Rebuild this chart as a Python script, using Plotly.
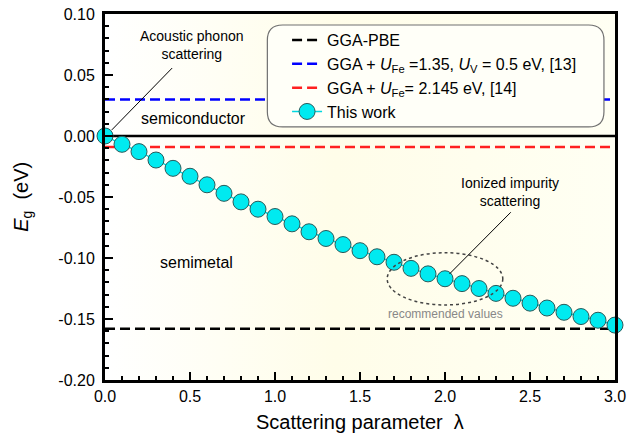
import plotly.graph_objects as go

# ---- data ----
lam = [0.0, 0.1, 0.2, 0.3, 0.4, 0.5, 0.6, 0.7, 0.8, 0.9, 1.0,
       1.1, 1.2, 1.3, 1.4, 1.5, 1.6, 1.7, 1.8, 1.9, 2.0,
       2.1, 2.2, 2.3, 2.4, 2.5, 2.6, 2.7, 2.8, 2.9, 3.0]
eg_this_work = [0.000, -0.0068, -0.0128, -0.0197, -0.0265, -0.033, -0.040, -0.047,
                -0.054, -0.060, -0.066, -0.072, -0.0785, -0.084, -0.089, -0.094,
                -0.099, -0.1035, -0.1085, -0.113, -0.117, -0.121, -0.125, -0.129,
                -0.133, -0.137, -0.141, -0.1445, -0.148, -0.151, -0.155]
eg_gga_pbe = -0.158
eg_ref13 = 0.030
eg_ref14 = -0.009

x_range = [0.0, 3.0]
y_range = [-0.20, 0.10]
y_tickvals = [0.10, 0.05, 0.00, -0.05, -0.10, -0.15, -0.20]
y_ticktext = ["0.10", "0.05", "0.00", "-0.05", "-0.10", "-0.15", "-0.20"]
x_tickvals = [0.0, 0.5, 1.0, 1.5, 2.0, 2.5, 3.0]
x_ticktext = ["0.0", "0.5", "1.0", "1.5", "2.0", "2.5", "3.0"]

FONT = "Liberation Sans, Arial, sans-serif"

fig = go.Figure()

# gradient background
fig.add_trace(go.Scatter(
    x=[x_range[0], x_range[1], x_range[1], x_range[0], x_range[0]],
    y=[y_range[0], y_range[0], y_range[1], y_range[1], y_range[0]],
    mode="lines", line=dict(width=0), fill="toself",
    fillgradient=dict(type="horizontal",
                      colorscale=[[0, "#ffffff"], [0.45, "#fffde9"], [1, "#fffff3"]]),
    showlegend=False, hoverinfo="skip"))

# zero line
fig.add_trace(go.Scatter(x=x_range, y=[0, 0], mode="lines",
                         line=dict(color="black", width=2.5),
                         showlegend=False, hoverinfo="skip"))

dash = "10px,5px"
fig.add_trace(go.Scatter(x=x_range, y=[eg_gga_pbe] * 2, mode="lines",
                         line=dict(color="black", width=2.5, dash=dash),
                         name="GGA-PBE"))
fig.add_trace(go.Scatter(x=x_range, y=[eg_ref13] * 2, mode="lines",
                         line=dict(color="#0000ff", width=2.5, dash=dash),
                         name="GGA + <i>U</i><sub>Fe</sub> =1.35, <i>U</i><sub>V</sub> = 0.5 eV, [13]"))
fig.add_trace(go.Scatter(x=x_range, y=[eg_ref14] * 2, mode="lines",
                         line=dict(color="#ff2020", width=2.5, dash=dash),
                         name="GGA + <i>U</i><sub>Fe</sub>= 2.145 eV, [14]"))
fig.add_trace(go.Scatter(x=lam, y=eg_this_work, mode="lines+markers",
                         line=dict(color="#00d8e0", width=1.5),
                         marker=dict(size=16, color="#00eaf0",
                                     line=dict(color="#2a5a5a", width=1)),
                         cliponaxis=False, name="This work"))

# rounded legend box (data coordinates)
bx0, bx1, by0, by1 = 0.955, 2.935, 0.0074, 0.091
rx, ry = 0.09, 0.0125
path = (f"M {bx0+rx},{by1} L {bx1-rx},{by1} Q {bx1},{by1} {bx1},{by1-ry} "
        f"L {bx1},{by0+ry} Q {bx1},{by0} {bx1-rx},{by0} "
        f"L {bx0+rx},{by0} Q {bx0},{by0} {bx0},{by0+ry} "
        f"L {bx0},{by1-ry} Q {bx0},{by1} {bx0+rx},{by1} Z")
fig.add_shape(type="path", path=path, xref="x", yref="y",
              line=dict(color="#707070", width=1.2), fillcolor="#fffff8",
              layer="above")

# recommended values ellipse
fig.add_shape(type="circle", xref="x", yref="y", x0=1.66, x1=2.34, y0=-0.1385, y1=-0.0957,
              line=dict(color="#444444", width=1.5, dash="dot"), layer="above")

# pointer lines
fig.add_shape(type="line", xref="x", yref="y", x0=0.04, y0=0.005, x1=0.395, y1=0.0557,
              line=dict(color="black", width=1), layer="above")
fig.add_shape(type="line", xref="x", yref="y", x0=2.027, y0=-0.113, x1=2.387, y1=-0.0625,
              line=dict(color="black", width=1), layer="above")

ann_font = dict(family=FONT, size=14, color="black")
fig.add_annotation(x=0.51, y=0.075, xref="x", yref="y", showarrow=False,
                   text="Acoustic phonon<br>scattering", font=ann_font)
fig.add_annotation(x=2.38, y=-0.0455, xref="x", yref="y", showarrow=False,
                   text="Ionized impurity<br>scattering", font=ann_font)
fig.add_annotation(x=0.52, y=0.0147, xref="x", yref="y", showarrow=False,
                   text="semiconductor", font=dict(family=FONT, size=16, color="black"))
fig.add_annotation(x=0.54, y=-0.104, xref="x", yref="y", showarrow=False,
                   text="semimetal", font=dict(family=FONT, size=16, color="black"))
fig.add_annotation(x=2.0, y=-0.146, xref="x", yref="y", showarrow=False,
                   text="recommended values", font=dict(family=FONT, size=12, color="#888888"))

# axis titles placed precisely as paper annotations
fig.add_annotation(x=0.5, y=-0.115, xref="paper", yref="paper", showarrow=False,
                   yanchor="middle", text="Scattering parameter  λ",
                   font=dict(family=FONT, size=20, color="black"))
fig.add_annotation(x=-0.163, y=0.5, xref="paper", yref="paper", showarrow=False,
                   xanchor="center", textangle=-90, text="<i>E</i><sub>g</sub>  (eV)",
                   font=dict(family=FONT, size=20, color="black"))

fig.update_layout(
    width=628, height=437,
    margin=dict(l=105, r=13, t=14, b=57, autoexpand=False),
    paper_bgcolor="white", plot_bgcolor="white",
    font=dict(family=FONT, size=16, color="black"),
    legend=dict(x=0.357, y=0.975, xanchor="left", yanchor="top",
                bgcolor="rgba(0,0,0,0)", borderwidth=0,
                font=dict(family=FONT, size=16), tracegroupgap=0),
    xaxis=dict(range=x_range, tickvals=x_tickvals, ticktext=x_ticktext,
               showgrid=False, zeroline=False, automargin=False,
               showline=True, linecolor="black", linewidth=3, mirror=True,
               ticks="inside", ticklen=8, tickwidth=2, tickcolor="black",
               minor=dict(dtick=0.1, ticks="inside", ticklen=4, tickwidth=1.5, tickcolor="black"),
               tickfont=dict(size=16)),
    yaxis=dict(range=y_range, tickvals=y_tickvals, ticktext=y_ticktext,
               showgrid=False, zeroline=False, automargin=False,
               showline=True, linecolor="black", linewidth=3, mirror=True,
               ticks="inside", ticklen=8, tickwidth=2, tickcolor="black",
               ticklabelstandoff=4,
               minor=dict(dtick=0.01, ticks="inside", ticklen=4, tickwidth=1.5, tickcolor="black"),
               tickfont=dict(size=16)),
)

fig.write_html("out.html", config={"displayModeBar": False},
               post_script="document.body.style.margin='0';document.body.style.overflow='hidden';")
